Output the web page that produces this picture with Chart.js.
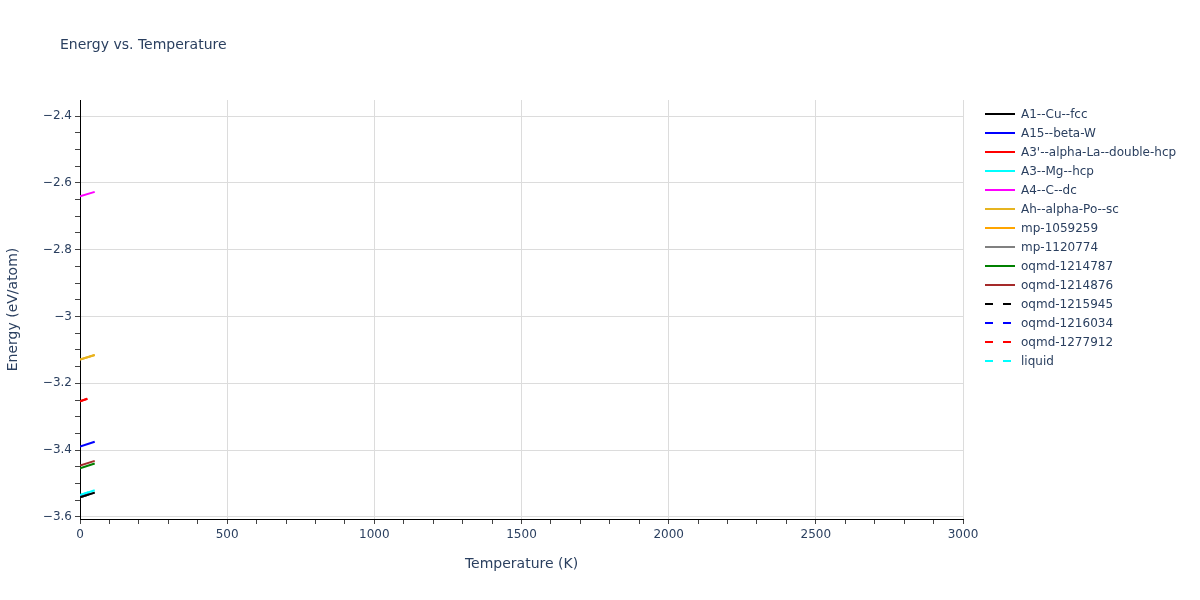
<!DOCTYPE html>
<html>
<head>
<meta charset="utf-8">
<script src="https://cdn.jsdelivr.net/npm/chart.js@4.4.0/dist/chart.umd.min.js"></script>
<style>
  body { margin: 0; background: #fff; font-family: "DejaVu Sans", sans-serif; }
  #wrap { position: relative; width: 1200px; height: 600px; }
  #title { position: absolute; left: 60px; top: 36px; font-size: 14px; color: #2a3f5f; }
  #legend { position: absolute; left: 985px; top: 104px; font-size: 12px; color: #2a3f5f; }
  .item { height: 19px; display: flex; align-items: center; }
  .item svg { margin-right: 6px; }
</style>
</head>
<body>
<div id="wrap">
  <canvas id="chartEnergy" width="1200" height="600"></canvas>
  <div id="title">Energy vs. Temperature</div>
  <div id="legend"></div>
</div>
<script>
// Data (T in K, E in eV/atom)
const seriesNames = ['A1--Cu--fcc', 'A15--beta-W', "A3'--alpha-La--double-hcp", 'A3--Mg--hcp', 'A4--C--dc',
    'Ah--alpha-Po--sc', 'mp-1059259', 'mp-1120774', 'oqmd-1214787', 'oqmd-1214876',
    'oqmd-1215945', 'oqmd-1216034', 'oqmd-1277912', 'liquid'];
const seriesColors = ['#000000', '#0000ff', '#ff0000', '#00ffff', '#ff00ff',
    '#e6b420', '#ffa500', '#808080', '#008000', '#a52a2a',
    '#000000', '#0000ff', '#ff0000', '#00ffff'];
const seriesDashed = [false, false, false, false, false, false, false, false, false, false, true, true, true, true];

const tempsLong = [0, 50];
const tempsShort = [0, 25];

const eA1 = [-3.541, -3.527];
const eA15 = [-3.389, -3.375];
const eA3p = [-3.254, -3.246];
const eA3 = [-3.534, -3.520];
const eA4 = [-2.640, -2.627];
const eAh = [-3.129, -3.115];
const eMp1059259 = [-3.129, -3.115];
const eMp1120774 = [-3.541, -3.527];
const eOq1214787 = [-3.454, -3.440];
const eOq1214876 = [-3.446, -3.432];
const eOq1215945 = [-3.541, -3.527];
const eOq1216034 = [-3.537, -3.524];
const eOq1277912 = [-3.254, -3.246];
const eLiquid = [-3.534, -3.520];

const seriesTemps = [tempsLong, tempsLong, tempsShort, tempsLong, tempsLong, tempsLong, tempsLong,
    tempsLong, tempsLong, tempsLong, tempsLong, tempsLong, tempsShort, tempsLong];
const seriesValues = [eA1, eA15, eA3p, eA3, eA4, eAh, eMp1059259, eMp1120774,
    eOq1214787, eOq1214876, eOq1215945, eOq1216034, eOq1277912, eLiquid];

const font = '"DejaVu Sans", sans-serif';
const textColor = '#2a3f5f';

document.addEventListener('DOMContentLoaded', () => {
    buildLegend();
    initChart();
});

function buildLegend() {
    const box = document.getElementById('legend');
    seriesNames.forEach((name, i) => {
        const row = document.createElement('div');
        row.className = 'item';
        const dash = seriesDashed[i] ? ' stroke-dasharray="8,10"' : '';
        row.innerHTML = `<svg width="30" height="4"><line x1="0" y1="2" x2="30" y2="2" stroke="${seriesColors[i]}" stroke-width="2"${dash}/></svg><span>${name}</span>`;
        box.appendChild(row);
    });
}

function fmtY(v) {
    const n = Math.round(v * 20);
    if (n % 4 !== 0) return '';
    const a = Math.abs(v);
    return (v < 0 ? '\u2212' : '') + String(Number(a.toFixed(1)));
}

function fmtX(v) {
    return Math.round(v) % 500 === 0 ? String(v) : '';
}

function initChart() {
    const datasets = seriesNames.map((name, i) => ({
        label: name,
        data: seriesTemps[i].map((t, j) => ({ x: t, y: seriesValues[i][j] })),
        borderColor: seriesColors[i],
        backgroundColor: seriesColors[i],
        borderWidth: 2,
        borderDash: seriesDashed[i] ? [9, 9] : [],
        pointRadius: 0,
        fill: false,
        order: i
    }));

    const ctx = document.getElementById('chartEnergy').getContext('2d');
    new Chart(ctx, {
        type: 'line',
        data: { datasets },
        options: {
            responsive: false,
            animation: false,
            layout: { padding: { left: 0, top: 100, right: 237, bottom: 27 } },
            plugins: { legend: { display: false }, tooltip: { enabled: false } },
            scales: {
                x: {
                    type: 'linear',
                    min: 0, max: 3000,
                    afterFit: s => { s.height = 54; },
                    border: { color: '#000', width: 1 },
                    grid: {
                        color: c => (c.tick && c.tick.value % 500 === 0 && c.tick.value !== 0) ? '#dcdcdc' : 'rgba(0,0,0,0)',
                        tickColor: '#444',
                        tickLength: 5
                    },
                    ticks: {
                        stepSize: 100, autoSkip: false, maxRotation: 0, padding: 4,
                        color: textColor, font: { family: font, size: 12 },
                        callback: v => fmtX(v)
                    },
                    title: {
                        display: true, text: 'Temperature (K)', color: textColor,
                        font: { family: font, size: 14 }, padding: { top: 4, bottom: 0 }
                    }
                },
                y: {
                    min: -3.606, max: -2.352,
                    afterFit: s => { s.width = 80; },
                    border: { color: '#000', width: 1 },
                    grid: {
                        color: c => (c.tick && Math.round(c.tick.value * 20) % 4 === 0) ? '#dcdcdc' : 'rgba(0,0,0,0)',
                        tickColor: '#444',
                        tickLength: 5
                    },
                    ticks: {
                        stepSize: 0.05, includeBounds: false, autoSkip: false, padding: 3,
                        color: textColor, font: { family: font, size: 12 },
                        callback: v => fmtY(v)
                    },
                    title: {
                        display: true, text: 'Energy (eV/atom)', color: textColor,
                        font: { family: font, size: 14 }, padding: { top: 5, bottom: 0 }
                    }
                }
            }
        }
    });
}
</script>
</body>
</html>
